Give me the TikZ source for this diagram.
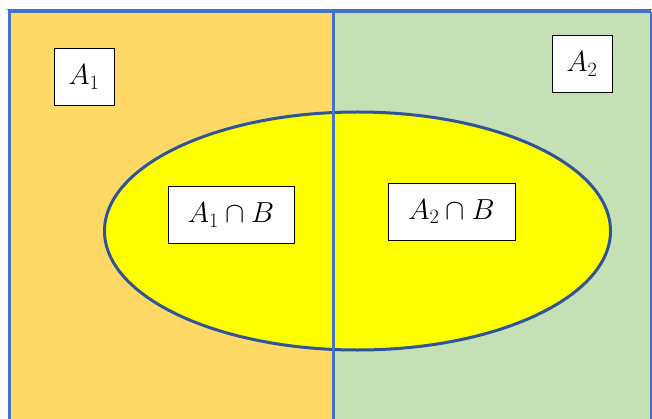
\documentclass[tikz,border=0pt]{standalone}
\usepackage{fix-cm}
\usepackage{amsmath,amssymb}
\usepackage{tikz}
\usetikzlibrary{positioning}

\definecolor{partone}{HTML}{FFD966}
\definecolor{parttwo}{HTML}{C5E0B4}
\definecolor{setfill}{HTML}{FFFF00}
\definecolor{edgeblue}{HTML}{4472C4}
\definecolor{rimblue}{HTML}{2F5597}

\begin{document}
\begin{tikzpicture}[x=1pt, y=-1pt, font=\fontsize{29}{34}\selectfont,
  lbl/.style={draw, fill=white, line width=0.9pt, inner sep=0pt, minimum height=57pt},
  border/.style={draw=edgeblue, line width=3pt}]
\useasboundingbox (0,0) rectangle (652,419);
% the two parts of the sample space
\fill[partone] (10,12) rectangle (333,425);
\fill[parttwo] (333,12) rectangle (651,425);
\draw[edgeblue, line width=0.8pt] (7,9.5) -- (652,9.5);
\draw[border] (9.5,425) -- (9.5,12) -- (651,12);
\draw[edgeblue, line width=1.5pt] (651,12) -- (651,425);
% the event B
\draw[rimblue, line width=3pt, fill=setfill] (357.5,231) ellipse [x radius=253, y radius=119];
\draw[border] (333,12) -- (333,425);
% labels
\node[lbl, minimum width=60pt] (a1)  at (84,77)    {$A_1$};
\node[lbl, minimum width=60pt] (a2)  at (582,64)   {$A_2$};
\node[lbl, minimum width=126pt] (a1b) at (231,215) {$A_1 \cap B$};
\node[lbl, minimum width=127pt] (a2b) at (451.5,211.5) {$A_2 \cap B$};
\end{tikzpicture}
\end{document}
